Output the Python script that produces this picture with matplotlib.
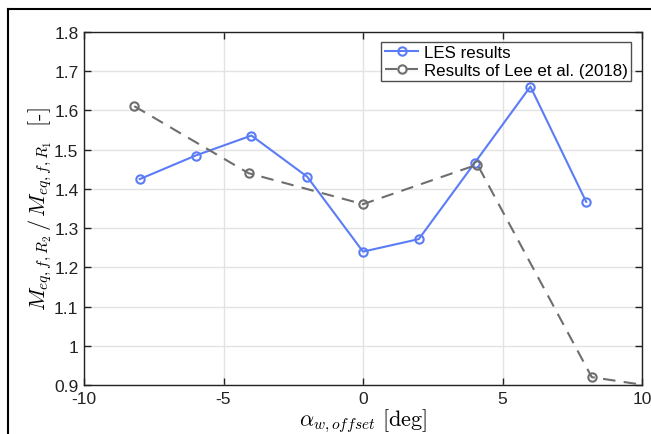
import matplotlib
matplotlib.use("Agg")
import matplotlib.pyplot as plt
from matplotlib.lines import Line2D

plt.rcParams['font.family'] = ['Liberation Sans', 'DejaVu Sans']
plt.rcParams['mathtext.fontset'] = 'cm'

# LES results
les_x = [-8, -6, -4, -2, 0, 2, 4, 6, 8]
les_y = [1.425, 1.485, 1.536, 1.431, 1.240, 1.272, 1.466, 1.661, 1.367]

# Results of Lee et al. (2018)
lee_x = [-8.2, -4.1, 0.0, 4.1, 8.2, 12.3]
lee_y = [1.611, 1.440, 1.361, 1.462, 0.920, 0.876]

xticks = [-10, -5, 0, 5, 10]
yticks = [0.9, 1.0, 1.1, 1.2, 1.3, 1.4, 1.5, 1.6, 1.7, 1.8]
yticklabels = ['0.9', '1', '1.1', '1.2', '1.3', '1.4', '1.5', '1.6', '1.7', '1.8']

W, H = 651, 435
fig = plt.figure(figsize=(W / 100, H / 100), dpi=100)
ax = fig.add_axes([84 / W, (H - 386) / H, 558 / W, 353 / H])

blue = '#5b7cf7'
gray = '#6e6e6e'

ax.plot(les_x, les_y, color=blue, lw=1.5, marker='o', ms=6, mfc='none',
        mew=1.5, label='LES results', zorder=3)
ax.plot(lee_x, lee_y, color=gray, lw=1.5, ls=(0, (6, 4)), marker='o', ms=6,
        mfc='none', mew=1.5, label='Results of Lee et al. (2018)', zorder=3)

ax.set_xlim(-10, 10)
ax.set_ylim(0.9, 1.8)
ax.set_xticks(xticks)
ax.set_xticklabels([str(t) for t in xticks])
ax.set_yticks(yticks)
ax.set_yticklabels(yticklabels)
ax.grid(True, color='#e3e3e3', lw=1.0)
ax.set_axisbelow(True)
ax.tick_params(direction='in', top=True, right=True, length=5, width=1,
               labelsize=12.5, colors='#222222', pad=4)
for s in ax.spines.values():
    s.set_linewidth(1.0)
    s.set_color('#222222')

ax.set_xlabel(r'$\alpha_{w,offset}\ [\mathrm{deg}]$', fontsize=16, labelpad=1)
ax.set_ylabel(r'$M_{eq,f,R_2}\,/\,M_{eq,f,R_1}\ \ [\text{-}]$', fontsize=16,
              labelpad=0)

leg = ax.legend(loc='upper right', bbox_to_anchor=(0.98, 0.972), fontsize=12.2,
                frameon=True, fancybox=False, edgecolor='#222222',
                borderpad=0.2, handlelength=2.0, handletextpad=0.3,
                labelspacing=0.15, borderaxespad=0.0)
leg.get_frame().set_linewidth(1.0)

# outer frame
fx0, fy0 = 8 / W, 1 - 10 / H
fig.add_artist(Line2D([fx0, fx0], [0, fy0], transform=fig.transFigure,
                      color='black', lw=1.5))
fig.add_artist(Line2D([fx0, 1.0], [fy0, fy0], transform=fig.transFigure,
                      color='black', lw=1.5))

fig.savefig('out.png', dpi=100)
